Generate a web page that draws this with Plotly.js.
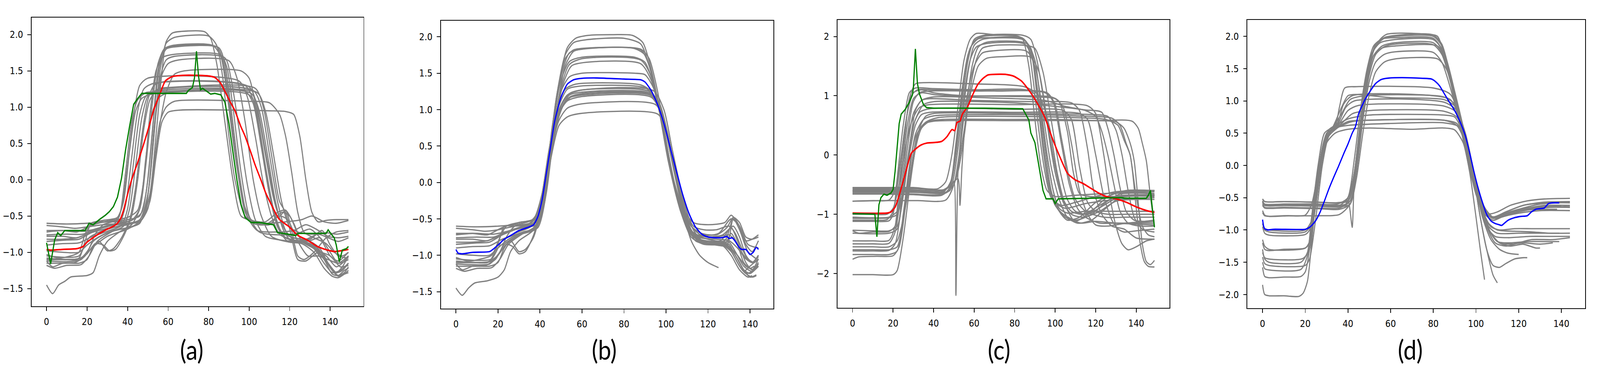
<!DOCTYPE html>
<html><head><meta charset="utf-8">
<script src="https://cdn.plot.ly/plotly-3.0.1.min.js"></script>
<style>html,body{margin:0;padding:0;background:#fff;overflow:hidden}#chart{position:absolute;left:0;top:0;width:4780px;height:956px;transform-origin:0 0}</style>
</head><body><div id="chart"></div>
<script>
// ---------- Panel (a): unaligned gray series ----------
const grayA = [
 [[0,-1.12],[10,-1.13],[17,-1.1],[22,-0.95],[30,-0.78],[40,-0.68],[47,-0.55],[51,-0.2],[54,0.6],[57,1.5],[59,1.9],[62,2.02],[70,2.05],[78,2.04],[81,1.95],[84,1.6],[88,0.8],[92,0.0],[96,-0.5],[101,-0.56],[108,-0.58],[114,-0.45],[118,-0.42],[122,-0.6],[126,-0.85],[132,-0.95],[137,-1.1],[141,-1.3],[144,-1.32],[147,-1.25],[149,-1.22]],
 [[0,-1.05],[10,-1.07],[16,-1.05],[21,-0.8],[28,-0.7],[38,-0.62],[46,-0.55],[50,-0.2],[53,0.6],[56,1.5],[59,1.88],[63,1.96],[80,1.98],[84,1.85],[87,1.4],[90,0.6],[93,0.0],[98,-0.5],[104,-0.6],[110,-0.62],[116,-0.45],[120,-0.5],[125,-0.8],[130,-0.9],[138,-1.05],[143,-1.2],[146,-1.15],[149,-1.05]],
 [[0,-0.6],[10,-0.61],[20,-0.6],[30,-0.58],[40,-0.55],[46,-0.5],[49,-0.2],[52,0.6],[55,1.5],[58,1.8],[62,1.85],[82,1.85],[86,1.7],[89,1.2],[93,0.35],[97,-0.3],[101,-0.55],[108,-0.6],[118,-0.58],[126,-0.55],[131,-0.5],[137,-0.58],[143,-0.6],[149,-0.56]],
 [[0,-0.76],[10,-0.75],[18,-0.75],[24,-0.68],[32,-0.62],[42,-0.56],[47,-0.45],[50,0.0],[53,0.9],[56,1.6],[59,1.8],[63,1.83],[85,1.82],[88,1.6],[91,1.0],[95,0.1],[99,-0.5],[104,-0.7],[114,-0.72],[122,-0.7],[128,-0.62],[133,-0.68],[139,-0.78],[144,-0.8],[149,-0.78]],
 [[0,-0.72],[8,-0.7],[15,-0.72],[22,-0.63],[30,-0.57],[40,-0.52],[45,-0.42],[48,0.0],[51,0.9],[54,1.5],[57,1.68],[61,1.72],[86,1.72],[89,1.55],[92,1.0],[96,0.1],[100,-0.5],[105,-0.72],[115,-0.76],[124,-0.74],[130,-0.68],[135,-0.8],[140,-1.05],[144,-1.12],[149,-1.0]],
 [[0,-1.15],[6,-1.15],[14,-1.14],[19,-1.05],[23,-0.85],[30,-0.73],[40,-0.66],[46,-0.6],[50,-0.2],[53,0.7],[56,1.4],[59,1.65],[63,1.7],[88,1.68],[91,1.4],[95,0.7],[99,-0.05],[103,-0.55],[108,-0.78],[118,-0.84],[126,-0.86],[132,-0.95],[137,-1.15],[141,-1.28],[145,-1.25],[149,-1.15]],
 [[0,-0.98],[8,-1.0],[16,-1.0],[20,-0.9],[25,-0.8],[33,-0.7],[43,-0.64],[48,-0.5],[51,0.0],[54,0.9],[57,1.45],[60,1.6],[65,1.65],[90,1.64],[94,1.4],[98,0.8],[102,0.0],[106,-0.5],[111,-0.78],[120,-0.86],[128,-0.87],[134,-0.95],[139,-1.15],[143,-1.28],[146,-1.2],[149,-1.05]],
 [[0,-0.85],[10,-0.83],[16,-0.82],[22,-0.73],[30,-0.64],[40,-0.6],[47,-0.55],[51,-0.2],[55,0.6],[59,1.2],[63,1.45],[68,1.5],[96,1.5],[100,1.4],[104,0.9],[108,0.2],[112,-0.4],[116,-0.72],[122,-0.8],[130,-0.82],[136,-0.7],[140,-0.9],[144,-1.05],[149,-1.08]],
 [[0,-1.08],[10,-1.1],[17,-1.08],[21,-0.95],[24,-0.75],[28,-0.62],[34,-0.56],[37,-0.4],[40,0.2],[43,0.9],[46,1.3],[50,1.4],[95,1.36],[99,1.15],[103,0.6],[107,-0.05],[111,-0.5],[115,-0.75],[122,-0.83],[130,-0.85],[135,-0.95],[140,-1.2],[144,-1.32],[147,-1.28],[149,-1.2]],
 [[0,-1.12],[3,-1.2],[8,-1.15],[16,-1.15],[20,-1.1],[23,-0.92],[26,-0.85],[30,-0.98],[33,-0.95],[37,-0.8],[41,-0.55],[44,-0.1],[47,0.6],[50,1.1],[53,1.3],[58,1.35],[98,1.3],[102,1.1],[106,0.5],[110,-0.2],[114,-0.65],[119,-0.85],[126,-0.88],[132,-1.0],[137,-1.22],[141,-1.33],[144,-1.35],[147,-1.3],[149,-1.25]],
 [[0,-0.78],[8,-0.78],[15,-0.8],[22,-0.72],[30,-0.64],[36,-0.6],[39,-0.35],[42,0.3],[45,0.95],[48,1.25],[53,1.33],[100,1.28],[104,1.0],[108,0.4],[112,-0.2],[116,-0.6],[120,-0.78],[128,-0.82],[134,-0.75],[139,-0.8],[144,-0.85],[149,-0.8]],
 [[0,-1.18],[4,-1.22],[10,-1.18],[17,-1.17],[21,-1.05],[25,-0.85],[32,-0.72],[38,-0.64],[41,-0.4],[44,0.2],[47,0.85],[50,1.15],[55,1.24],[102,1.23],[106,1.0],[110,0.35],[114,-0.3],[118,-0.7],[123,-0.85],[130,-0.88],[136,-1.05],[141,-1.25],[144,-1.33],[147,-1.3],[149,-1.28]],
 [[0,-0.7],[10,-0.7],[18,-0.71],[26,-0.67],[33,-0.62],[36,-0.5],[39,0.1],[42,0.8],[45,1.1],[49,1.2],[54,1.21],[104,1.2],[108,0.95],[112,0.35],[116,-0.3],[120,-0.65],[125,-0.73],[132,-0.75],[138,-0.73],[143,-0.75],[149,-0.72]],
 [[0,-1.45],[3,-1.57],[6,-1.45],[9,-1.4],[12,-1.34],[20,-1.32],[23,-1.28],[26,-1.05],[30,-0.85],[36,-0.72],[42,-0.62],[46,-0.4],[49,0.3],[52,0.9],[55,1.12],[60,1.2],[101,1.19],[105,0.95],[109,0.35],[113,-0.3],[117,-0.7],[121,-0.85],[128,-0.86],[134,-0.95],[139,-1.15],[143,-1.28],[146,-1.25],[149,-1.15]],
 [[0,-1.03],[6,-1.08],[12,-1.05],[16,-1.0],[19,-0.75],[22,-0.6],[28,-0.56],[35,-0.52],[38,-0.3],[41,0.4],[44,0.95],[47,1.12],[52,1.18],[100,1.17],[104,0.95],[108,0.35],[112,-0.25],[115,-0.5],[118,-0.42],[121,-0.7],[124,-1.05],[127,-1.1],[132,-1.0],[138,-0.8],[143,-0.72],[149,-0.7]],
 [[0,-0.63],[8,-0.65],[14,-0.67],[20,-0.65],[28,-0.62],[38,-0.6],[46,-0.58],[50,-0.4],[53,0.2],[56,0.8],[59,1.0],[63,1.08],[100,1.08],[110,1.06],[115,0.9],[118,0.6],[121,0.1],[124,-0.45],[127,-0.72],[132,-0.8],[138,-0.88],[142,-1.0],[146,-1.05],[149,-1.0]],
 [[0,-0.82],[8,-0.82],[15,-0.8],[22,-0.73],[30,-0.67],[40,-0.62],[47,-0.55],[51,-0.3],[54,0.3],[57,0.8],[60,0.93],[66,0.96],[110,0.95],[118,0.94],[122,0.9],[125,0.6],[128,0.0],[131,-0.45],[134,-0.58],[138,-0.56],[143,-0.55],[149,-0.55]],
 [[0,-0.9],[8,-0.88],[16,-0.87],[22,-0.79],[30,-0.71],[37,-0.63],[40,-0.4],[43,0.25],[46,0.9],[49,1.15],[54,1.22],[98,1.22],[102,1.05],[106,0.45],[110,-0.2],[114,-0.62],[118,-0.8],[124,-0.85],[130,-0.84],[135,-0.8],[140,-1.0],[144,-1.15],[149,-1.1]],
 [[0,-1.1],[10,-1.1],[16,-1.08],[19,-0.85],[22,-0.6],[26,-0.58],[34,-0.58],[42,-0.56],[46,-0.4],[49,0.2],[52,1.0],[55,1.6],[58,1.8],[62,1.84],[84,1.83],[87,1.65],[90,1.1],[94,0.2],[98,-0.45],[102,-0.6],[108,-0.62],[115,-0.5],[119,-0.55],[124,-0.85],[129,-1.05],[134,-1.05],[139,-1.1],[144,-1.15],[149,-1.05]],
 [[0,-1.1],[8,-1.1],[15,-1.1],[20,-1.02],[24,-0.88],[28,-0.9],[31,-0.98],[34,-0.96],[38,-0.78],[42,-0.5],[45,0.0],[48,0.7],[51,1.1],[55,1.25],[60,1.27],[103,1.26],[107,1.0],[111,0.35],[115,-0.3],[118,-0.45],[121,-0.8],[124,-1.1],[128,-1.12],[134,-1.0],[140,-1.05],[145,-1.2],[149,-1.18]]
];
const redAx = [0,2,8,15,18,20,25,30,33,35,36.6,38,40,42,45,47.6,50,53,55.8,58.6,61.9,70,80,83,85.7,88,90.7,93,95.8,98,100.8,103,105.9,108,110.9,114.7,119.8,124.2,128.6,133.7,138.7,142.5,145,149];
const redAy = [-0.96,-0.97,-0.96,-0.95,-0.92,-0.86,-0.76,-0.68,-0.64,-0.6,-0.53,-0.42,-0.2,0.0,0.24,0.46,0.68,0.97,1.17,1.36,1.42,1.44,1.43,1.41,1.34,1.22,1.07,0.95,0.74,0.6,0.38,0.2,-0.01,-0.17,-0.34,-0.54,-0.65,-0.77,-0.83,-0.92,-0.97,-0.99,-0.98,-0.96];
const greenAx = [0,2,4,5.5,7,9,19,21,23,26,29,31,33,35,37,39,41,43,45,47,69,70,72,73,74,75,76,77,79,81,83,86,88,90,92,94,96,98,101,105,112,114,117,123,124,138,139,140,142,143,144.5,146,148,149];
const greenAy = [-0.87,-1.16,-0.83,-0.73,-0.77,-0.7,-0.7,-0.6,-0.62,-0.55,-0.49,-0.44,-0.37,-0.24,0.02,0.41,0.74,1.04,1.12,1.19,1.19,1.23,1.27,1.4,1.77,1.43,1.24,1.26,1.22,1.18,1.19,1.17,1.07,0.78,0.38,-0.01,-0.34,-0.52,-0.59,-0.59,-0.62,-0.73,-0.74,-0.77,-0.74,-0.74,-0.69,-0.73,-0.8,-0.9,-1.13,-0.97,-0.95,-0.92];

// ---------- Panel (b): aligned gray series ----------
const grayB = [
 [[0,-1.12],[8,-1.13],[16,-1.12],[20,-1.0],[24,-0.85],[30,-0.72],[37,-0.62],[41,-0.35],[45,0.5],[49,1.35],[53,1.85],[57,1.98],[63,2.02],[75,2.03],[84,2.02],[89,1.92],[93,1.55],[97,1.0],[102,0.2],[107,-0.4],[112,-0.72],[117,-0.8],[124,-0.82],[129,-0.85],[133,-1.0],[137,-1.2],[140,-1.3],[143,-1.27]],
 [[0,-1.05],[10,-1.07],[17,-1.05],[22,-0.8],[28,-0.7],[36,-0.6],[40,-0.4],[44,0.3],[48,1.2],[52,1.75],[56,1.92],[62,1.96],[80,1.98],[88,1.9],[92,1.6],[96,1.1],[101,0.3],[106,-0.3],[111,-0.65],[116,-0.78],[126,-0.8],[131,-0.62],[134,-0.8],[138,-1.1],[141,-1.2],[144,-1.05]],
 [[0,-0.6],[10,-0.61],[20,-0.6],[28,-0.58],[36,-0.52],[40,-0.35],[44,0.35],[48,1.2],[52,1.7],[56,1.82],[65,1.85],[85,1.84],[90,1.75],[94,1.4],[98,0.85],[103,0.1],[108,-0.35],[113,-0.55],[120,-0.58],[128,-0.55],[131,-0.45],[134,-0.55],[138,-0.8],[141,-0.78],[144,-0.72]],
 [[0,-0.76],[10,-0.75],[18,-0.75],[24,-0.68],[32,-0.6],[38,-0.55],[42,-0.2],[46,0.7],[50,1.45],[54,1.78],[60,1.83],[88,1.82],[92,1.6],[96,1.1],[100,0.5],[105,-0.15],[110,-0.6],[115,-0.72],[125,-0.7],[131,-0.5],[135,-0.6],[139,-0.85],[144,-0.9]],
 [[0,-0.72],[8,-0.7],[15,-0.72],[22,-0.62],[30,-0.55],[38,-0.5],[42,-0.1],[46,0.8],[50,1.4],[54,1.66],[60,1.72],[85,1.72],[90,1.65],[94,1.35],[98,0.85],[103,0.1],[108,-0.45],[113,-0.7],[120,-0.75],[127,-0.72],[132,-0.6],[135,-0.75],[138,-1.0],[141,-1.1],[144,-1.0]],
 [[0,-1.15],[6,-1.15],[14,-1.14],[19,-1.05],[23,-0.85],[30,-0.72],[38,-0.64],[42,-0.3],[46,0.6],[50,1.3],[54,1.62],[60,1.7],[88,1.68],[93,1.45],[97,0.95],[102,0.2],[107,-0.4],[112,-0.72],[118,-0.82],[126,-0.84],[131,-0.95],[135,-1.15],[138,-1.25],[141,-1.22],[144,-1.1]],
 [[0,-0.98],[8,-1.0],[16,-1.0],[20,-0.9],[25,-0.78],[32,-0.68],[39,-0.62],[43,-0.15],[47,0.75],[51,1.35],[55,1.6],[62,1.65],[88,1.63],[93,1.4],[97,0.95],[102,0.2],[107,-0.4],[112,-0.75],[118,-0.85],[126,-0.86],[130,-0.9],[134,-1.1],[137,-1.22],[140,-1.15],[144,-1.05]],
 [[0,-0.85],[10,-0.83],[16,-0.82],[22,-0.72],[30,-0.62],[38,-0.58],[42,-0.25],[46,0.65],[50,1.25],[54,1.45],[60,1.5],[85,1.5],[90,1.48],[94,1.3],[98,0.9],[103,0.1],[108,-0.45],[113,-0.7],[120,-0.78],[128,-0.8],[132,-0.5],[135,-0.65],[139,-0.95],[143,-1.05]],
 [[0,-1.08],[10,-1.1],[17,-1.08],[21,-0.95],[24,-0.75],[28,-0.6],[36,-0.55],[40,-0.3],[44,0.4],[48,1.0],[52,1.28],[57,1.35],[88,1.34],[93,1.25],[97,1.0],[101,0.35],[106,-0.3],[111,-0.68],[117,-0.82],[126,-0.83],[130,-0.85],[133,-1.0],[137,-1.2],[140,-1.25],[144,-1.15]],
 [[0,-1.12],[3,-1.2],[8,-1.15],[16,-1.15],[20,-1.1],[23,-0.9],[26,-0.8],[30,-0.95],[33,-0.92],[37,-0.75],[41,-0.3],[45,0.5],[49,1.05],[53,1.28],[58,1.32],[90,1.3],[95,1.15],[99,0.7],[104,0.0],[109,-0.5],[114,-0.8],[120,-0.85],[127,-0.87],[131,-1.0],[135,-1.2],[139,-1.3],[141,-1.28]],
 [[0,-0.78],[8,-0.78],[15,-0.8],[22,-0.7],[30,-0.62],[38,-0.58],[42,-0.2],[46,0.55],[50,1.05],[54,1.22],[60,1.27],[92,1.25],[97,1.05],[101,0.6],[105,0.0],[110,-0.55],[115,-0.8],[122,-0.85],[129,-0.86],[132,-0.5],[135,-0.6],[138,-0.85],[141,-0.95],[144,-0.8]],
 [[0,-1.18],[4,-1.22],[10,-1.18],[17,-1.17],[21,-1.05],[25,-0.85],[32,-0.7],[38,-0.62],[42,-0.25],[46,0.5],[50,1.0],[54,1.2],[60,1.24],[92,1.23],[97,1.05],[101,0.55],[106,-0.1],[111,-0.6],[116,-0.82],[124,-0.85],[130,-0.88],[134,-1.05],[138,-1.25],[141,-1.3],[143,-1.28]],
 [[0,-0.7],[10,-0.7],[18,-0.71],[26,-0.66],[34,-0.6],[39,-0.5],[43,0.0],[47,0.7],[51,1.05],[55,1.18],[62,1.21],[93,1.2],[98,0.95],[102,0.45],[107,-0.2],[112,-0.6],[117,-0.73],[124,-0.75],[130,-0.72],[133,-0.8],[137,-1.0],[141,-1.1],[144,-1.0]],
 [[0,-1.45],[3,-1.55],[6,-1.45],[9,-1.38],[15,-1.35],[20,-1.3],[23,-1.2],[26,-0.95],[30,-0.8],[37,-0.65],[41,-0.3],[45,0.45],[49,0.95],[53,1.15],[60,1.2],[93,1.19],[98,0.95],[102,0.45],[107,-0.2],[112,-0.65],[117,-0.82],[125,-0.83],[130,-0.82],[133,-0.95],[137,-1.15],[141,-1.22],[144,-1.12]],
 [[0,-1.03],[6,-1.08],[12,-1.05],[17,-1.0],[21,-0.75],[24,-0.6],[30,-0.55],[37,-0.5],[41,-0.15],[45,0.55],[49,0.95],[53,1.12],[60,1.18],[93,1.17],[98,0.92],[102,0.4],[107,-0.25],[112,-0.6],[117,-0.7],[124,-0.72],[129,-0.62],[132,-0.48],[135,-0.55],[138,-0.75],[141,-0.78],[144,-0.75]],
 [[0,-0.63],[8,-0.65],[14,-0.67],[20,-0.65],[28,-0.6],[36,-0.55],[41,-0.3],[45,0.4],[49,0.85],[53,1.02],[60,1.08],[95,1.07],[99,0.85],[103,0.35],[108,-0.25],[113,-0.6],[118,-0.65],[124,-0.65],[130,-0.6],[133,-0.7],[136,-0.9],[139,-1.05],[142,-1.1],[144,-1.05]],
 [[0,-0.82],[8,-0.82],[15,-0.8],[22,-0.72],[28,-0.65],[36,-0.58],[41,-0.35],[45,0.3],[49,0.78],[53,0.9],[60,0.95],[96,0.94],[100,0.75],[104,0.2],[108,-0.4],[112,-0.8],[116,-1.0],[120,-1.1],[125,-1.17]],
 [[0,-0.9],[8,-0.88],[16,-0.87],[22,-0.78],[30,-0.7],[38,-0.62],[42,-0.2],[46,0.55],[50,1.0],[54,1.17],[60,1.22],[93,1.22],[97,1.08],[101,0.65],[105,0.0],[110,-0.55],[115,-0.8],[122,-0.84],[128,-0.85],[131,-0.7],[134,-0.85],[137,-1.1],[140,-1.18],[142,-1.15]],
 [[0,-1.1],[10,-1.1],[16,-1.08],[20,-0.85],[23,-0.6],[27,-0.6],[34,-0.58],[40,-0.4],[44,0.2],[48,1.0],[52,1.6],[56,1.8],[62,1.84],[88,1.83],[92,1.7],[96,1.25],[100,0.55],[105,-0.15],[110,-0.6],[115,-0.75],[124,-0.78],[130,-0.8],[134,-0.9],[138,-1.05],[141,-1.1],[144,-1.02]],
 [[0,-1.1],[8,-1.1],[15,-1.1],[20,-1.0],[24,-0.85],[27,-0.88],[30,-0.98],[33,-0.95],[37,-0.72],[41,-0.25],[45,0.5],[49,1.0],[53,1.2],[60,1.27],[94,1.26],[99,1.0],[103,0.45],[108,-0.2],[113,-0.65],[118,-0.82],[126,-0.84],[130,-0.88],[134,-1.0],[138,-1.15],[142,-1.2],[144,-1.15]]
];
const blueBx = [0,1,3,8,16,18,20,23,26,30,34,37,39,41,43,45,47,50,53,56,60,67,80,88,90,93,96,99,102,105,108,111,114,117,120,126,128,129,130,131.5,133,134.5,136,138,140,141.5,143,144];
const blueBy = [-0.92,-0.97,-0.98,-0.96,-0.95,-0.91,-0.86,-0.78,-0.73,-0.66,-0.62,-0.58,-0.47,-0.24,0.12,0.48,0.84,1.17,1.35,1.41,1.43,1.435,1.42,1.41,1.38,1.26,1.07,0.81,0.48,0.15,-0.17,-0.43,-0.61,-0.71,-0.75,-0.76,-0.75,-0.74,-0.77,-0.76,-0.81,-0.88,-0.92,-0.92,-0.99,-0.96,-0.89,-0.92];

// ---------- Panel (c): unaligned gray series ----------
const grayC = [
 [[0,-2.02],[10,-2.02],[20,-2.02],[22,-1.95],[25,-1.4],[28,-0.6],[31,0.1],[34,0.45],[38,0.57],[45,0.6],[80,0.6],[100,0.6],[120,0.58],[130,0.56],[134,0.45],[137,0.2],[139,-0.1],[141,-0.8],[143,-1.5],[145,-1.8],[147,-1.85],[149,-1.78]],
 [[0,-1.76],[3,-1.72],[12,-1.71],[20,-1.7],[23,-1.55],[26,-0.9],[29,-0.2],[32,0.35],[36,0.55],[42,0.63],[80,0.65],[110,0.63],[125,0.6],[131,0.5],[134,0.25],[137,0.0],[140,-0.9],[142,-1.5],[144,-1.8],[146,-1.88],[149,-1.89]],
 [[0,-1.62],[10,-1.62],[18,-1.61],[21,-1.5],[24,-0.9],[27,-0.1],[30,0.5],[33,0.72],[38,0.78],[80,0.77],[104,0.75],[108,0.6],[112,-0.2],[116,-0.8],[120,-0.95],[126,-1.0],[135,-1.0],[149,-1.0]],
 [[0,-1.5],[10,-1.5],[18,-1.49],[21,-1.3],[24,-0.6],[27,0.3],[30,0.9],[33,1.05],[38,1.08],[60,1.08],[95,1.05],[99,0.9],[103,0.2],[107,-0.5],[111,-0.9],[115,-1.05],[122,-1.15],[130,-1.15],[140,-1.15],[149,-1.15]],
 [[0,-1.45],[10,-1.45],[18,-1.44],[21,-1.2],[23,-0.5],[26,0.4],[28,0.95],[31,1.2],[35,1.22],[60,1.2],[85,1.15],[92,1.0],[97,0.5],[101,-0.3],[105,-0.85],[109,-1.1],[113,-1.15],[120,-1.12],[130,-1.15],[149,-1.18]],
 [[0,-1.28],[3,-1.32],[10,-1.3],[18,-1.29],[21,-1.2],[24,-0.4],[27,0.5],[30,0.95],[34,1.05],[40,1.02],[50,1.0],[90,0.98],[100,0.95],[104,0.8],[108,0.2],[112,-0.6],[116,-1.0],[120,-1.18],[126,-1.2],[135,-1.15],[149,-1.12]],
 [[0,-1.1],[10,-1.1],[17,-1.09],[20,-0.95],[23,-0.3],[26,0.5],[29,1.0],[32,1.1],[40,1.1],[70,1.08],[96,1.05],[100,0.85],[103,0.3],[107,-0.4],[110,-0.75],[115,-0.95],[124,-1.05],[135,-1.05],[149,-1.05]],
 [[0,-1.05],[10,-1.06],[18,-1.05],[22,-0.95],[25,-0.6],[28,0.0],[31,0.5],[34,0.68],[38,0.72],[80,0.72],[112,0.7],[116,0.6],[120,0.0],[124,-0.7],[128,-1.1],[131,-1.25],[134,-1.3],[140,-1.28],[149,-1.25]],
 [[0,-1.0],[10,-1.0],[17,-1.0],[20,-0.9],[23,-0.5],[26,0.1],[29,0.55],[33,0.8],[38,0.85],[80,0.85],[116,0.83],[120,0.7],[124,0.0],[127,-0.7],[130,-1.2],[133,-1.5],[136,-1.6],[140,-1.55],[145,-1.45],[149,-1.42]],
 [[0,-1.27],[10,-1.28],[18,-1.28],[22,-1.2],[25,-0.7],[28,0.1],[31,0.75],[34,0.92],[38,0.95],[60,0.92],[90,0.9],[108,0.88],[112,0.75],[116,0.1],[119,-0.6],[123,-1.0],[128,-1.2],[134,-1.25],[140,-1.4],[149,-1.42]],
 [[0,-1.55],[10,-1.55],[18,-1.55],[22,-1.45],[26,-0.9],[30,-0.1],[33,0.45],[36,0.65],[40,0.7],[80,0.7],[120,0.68],[126,0.65],[130,0.42],[133,0.0],[136,-0.6],[139,-1.05],[143,-1.25],[149,-1.3]],
 [[0,-0.78],[10,-0.77],[18,-0.76],[21,-0.6],[24,0.0],[27,0.7],[30,1.05],[34,1.1],[40,1.05],[55,1.0],[80,1.0],[98,0.98],[102,0.9],[106,0.4],[109,-0.3],[112,-0.65],[117,-0.7],[130,-0.7],[149,-0.68]],
 [[0,-1.12],[10,-1.12],[18,-1.11],[20,-1.0],[22,-0.4],[25,0.5],[28,1.05],[31,1.13],[40,1.12],[60,1.1],[88,1.08],[92,0.9],[94,0.5],[96,0.0],[99,-0.6],[102,-0.9],[106,-0.98],[115,-0.95],[130,-0.95],[149,-0.95]],
 [[0,-1.32],[10,-1.33],[18,-1.32],[22,-1.25],[24,-0.8],[27,0.1],[30,0.7],[34,0.92],[40,0.98],[70,0.96],[95,0.92],[105,0.82],[115,0.75],[120,0.65],[123,0.4],[126,0.0],[129,-0.5],[132,-0.95],[136,-1.15],[142,-1.2],[149,-1.2]],
 [[0,-1.07],[10,-1.07],[18,-1.06],[22,-1.0],[25,-0.6],[28,0.1],[31,0.6],[35,0.85],[40,0.9],[80,0.88],[100,0.82],[115,0.76],[123,0.72],[126,0.45],[129,0.0],[132,-0.55],[135,-0.95],[139,-1.1],[144,-1.12],[149,-1.1]],
 [[0,-1.6],[10,-1.6],[18,-1.6],[22,-1.55],[25,-1.1],[28,-0.3],[31,0.35],[35,0.6],[40,0.66],[80,0.68],[110,0.66],[128,0.62],[132,0.5],[135,0.2],[137,0.0],[140,-0.7],[143,-1.2],[146,-1.35],[149,-1.38]],
 [[0,-1.68],[10,-1.68],[18,-1.68],[22,-1.62],[25,-1.0],[28,-0.2],[31,0.3],[35,0.52],[40,0.57],[80,0.58],[120,0.58],[138,0.57],[141,0.45],[143,0.2],[145,-0.1],[147,-0.7],[149,-1.2]],
 [[0,-0.55],[15,-0.55],[30,-0.55],[42,-0.57],[46,-0.45],[49,0.0],[52,0.8],[55,1.6],[58,1.95],[61,2.05],[70,2.03],[80,2.02],[84,1.95],[87,1.5],[90,0.6],[93,-0.2],[96,-0.6],[100,-0.7],[110,-0.68],[125,-0.65],[149,-0.62]],
 [[0,-0.6],[15,-0.6],[30,-0.6],[44,-0.62],[48,-0.5],[51,0.2],[54,1.1],[57,1.7],[60,1.92],[64,2.0],[82,2.0],[86,1.9],[89,1.3],[92,0.4],[95,-0.3],[98,-0.72],[103,-0.85],[110,-0.8],[120,-0.7],[130,-0.62],[149,-0.6]],
 [[0,-0.63],[15,-0.63],[30,-0.63],[44,-0.64],[48,-0.6],[50,-0.45],[51,-2.37],[52,-0.3],[54,0.5],[57,1.4],[60,1.85],[64,1.95],[84,1.95],[88,1.8],[91,1.1],[94,0.2],[97,-0.5],[100,-0.8],[105,-0.9],[115,-0.82],[130,-0.75],[149,-0.72]],
 [[0,-0.58],[15,-0.58],[30,-0.59],[44,-0.6],[48,-0.52],[52,-0.4],[53,-0.85],[54,-0.2],[56,0.7],[59,1.5],[62,1.82],[66,1.9],[86,1.88],[90,1.6],[93,0.8],[96,0.0],[99,-0.6],[102,-0.95],[106,-1.1],[112,-1.05],[120,-0.8],[130,-0.65],[149,-0.6]],
 [[0,-0.65],[15,-0.65],[30,-0.66],[45,-0.66],[49,-0.5],[52,0.1],[55,1.0],[58,1.6],[61,1.82],[66,1.88],[85,1.87],[89,1.6],[92,0.9],[95,0.1],[98,-0.6],[101,-0.9],[105,-1.05],[110,-1.12],[118,-0.95],[126,-0.7],[135,-0.6],[149,-0.6]],
 [[0,-0.6],[15,-0.61],[32,-0.61],[45,-0.62],[49,-0.4],[52,0.4],[55,1.3],[58,1.8],[62,1.96],[68,1.98],[84,1.97],[88,1.75],[91,1.0],[94,0.1],[97,-0.55],[100,-0.85],[104,-1.0],[110,-1.1],[118,-1.0],[125,-0.8],[132,-0.66],[149,-0.65]],
 [[0,-0.78],[15,-0.77],[32,-0.77],[46,-0.76],[50,-0.5],[53,0.1],[56,0.9],[60,1.5],[64,1.72],[70,1.76],[86,1.75],[90,1.5],[94,0.7],[98,-0.2],[102,-0.75],[106,-1.05],[111,-1.15],[118,-1.1],[125,-0.9],[132,-0.72],[149,-0.7]],
 [[0,-0.62],[15,-0.62],[32,-0.63],[46,-0.64],[50,-0.5],[54,0.2],[58,1.0],[62,1.5],[66,1.63],[75,1.66],[88,1.65],[92,1.4],[96,0.6],[100,-0.2],[104,-0.75],[108,-0.95],[114,-1.0],[122,-0.85],[130,-0.7],[149,-0.67]],
 [[0,-0.56],[15,-0.56],[32,-0.57],[46,-0.58],[51,-0.4],[55,0.3],[58,1.1],[61,1.6],[64,1.8],[70,1.85],[85,1.85],[90,1.8],[94,1.4],[98,0.6],[102,-0.2],[106,-0.75],[110,-0.95],[116,-1.0],[124,-0.85],[132,-0.7],[149,-0.68]],
 [[0,-0.66],[15,-0.66],[30,-0.67],[44,-0.68],[48,-0.55],[51,0.0],[54,0.9],[57,1.6],[60,1.95],[65,2.02],[84,2.02],[88,1.95],[91,1.6],[94,1.0],[97,0.3],[100,-0.3],[104,-0.8],[108,-1.0],[114,-1.05],[122,-0.95],[130,-0.78],[149,-0.75]]
];
const redCx = [0,17,19,21,23,25,27,29,31.4,33.9,36.5,40.3,44,46.6,49.1,50.4,51.6,53,54.2,56.7,59.2,61.8,64.3,66.8,69.4,75.7,79.5,83.3,87.1,90.9,94.7,98.5,102.3,106.1,109.9,113.7,117.5,121.3,125.1,130.1,135.2,140.3,145.3,149];
const redCy = [-0.98,-0.98,-0.96,-0.88,-0.68,-0.44,-0.19,0.03,0.11,0.17,0.2,0.21,0.23,0.31,0.43,0.41,0.55,0.57,0.69,0.81,1.01,1.19,1.29,1.35,1.36,1.36,1.33,1.25,1.09,0.89,0.65,0.29,-0.03,-0.31,-0.42,-0.48,-0.56,-0.64,-0.70,-0.74,-0.80,-0.88,-0.94,-0.97];
const greenCx = [0,11,12,13,14,15.5,17,19,20,21,22,23,24,26,28,29.5,30,31,32,33,35,36.5,40,65,84,85.5,87,88,90,92,94,95.5,99,100,101.5,133,134,145,146,147,149];
const greenCy = [-0.99,-1.0,-1.38,-0.84,-0.72,-0.66,-0.68,-0.64,-0.58,-0.27,0.13,0.53,0.69,0.77,0.89,1.01,1.13,1.79,1.21,1.03,0.85,0.8,0.79,0.79,0.78,0.69,0.59,0.37,0.21,-0.19,-0.6,-0.74,-0.74,-0.82,-0.74,-0.72,-0.73,-0.73,-0.68,-0.6,-1.22];

// ---------- Panel (d): aligned gray series ----------
const grayD = [
 [[0,-1.85],[1,-2.0],[3,-2.02],[10,-2.02],[17,-2.03],[19,-1.98],[21,-1.8],[23,-1.2],[25,-0.5],[27,0.0],[30,0.35],[34,0.5],[40,0.56],[50,0.58],[70,0.56],[85,0.58],[90,0.55],[94,0.35],[97,-0.1],[100,-0.8],[102,-1.3],[104,-1.77]],
 [[0,-1.58],[1,-1.72],[3,-1.74],[10,-1.73],[18,-1.72],[20,-1.65],[22,-1.3],[24,-0.6],[27,0.1],[30,0.45],[34,0.58],[40,0.62],[60,0.65],[85,0.66],[92,0.6],[96,0.35],[99,-0.2],[102,-0.8],[105,-1.3],[108,-1.7],[110,-1.82]],
 [[0,-1.5],[1,-1.6],[3,-1.62],[18,-1.61],[21,-1.4],[23,-0.8],[26,-0.1],[29,0.4],[33,0.58],[40,0.72],[50,0.78],[85,0.78],[90,0.75],[94,0.5],[98,0.0],[102,-0.6],[106,-0.95],[110,-1.05],[120,-1.05],[130,-1.05],[139,-1.05]],
 [[0,-1.3],[1,-1.45],[3,-1.5],[18,-1.5],[21,-1.35],[23,-0.8],[26,0.0],[29,0.5],[33,0.6],[37,0.8],[41,1.02],[48,1.08],[85,1.06],[90,0.95],[94,0.6],[98,0.0],[102,-0.6],[106,-1.0],[110,-1.18],[116,-1.2],[124,-1.18],[133,-1.18],[139,-1.18]],
 [[0,-1.35],[1,-1.43],[3,-1.45],[19,-1.44],[22,-1.3],[24,-0.7],[27,0.1],[30,0.5],[34,0.6],[36,0.9],[38.5,1.2],[44,1.22],[80,1.2],[88,1.1],[93,0.7],[97,0.1],[101,-0.5],[105,-0.95],[109,-1.2],[114,-1.25],[120,-1.2],[126,-1.15],[136,-1.15],[144,-1.12]],
 [[0,-1.2],[1,-1.3],[3,-1.32],[10,-1.3],[20,-1.28],[22,-1.2],[25,-0.6],[28,0.1],[31,0.5],[35,0.62],[39,0.9],[43,1.0],[85,0.98],[91,0.85],[95,0.5],[99,-0.1],[103,-0.7],[107,-1.05],[111,-1.2],[116,-1.22],[122,-1.2],[130,-1.22],[136,-1.2]],
 [[0,-0.95],[1,-1.05],[3,-1.08],[20,-1.07],[22,-1.0],[25,-0.5],[28,0.2],[31,0.55],[35,0.65],[38,0.95],[42,1.08],[80,1.08],[88,1.02],[93,0.7],[97,0.1],[101,-0.5],[105,-0.95],[109,-1.1],[115,-1.12],[125,-1.1],[135,-1.1],[144,-1.1]],
 [[0,-0.9],[1,-1.0],[3,-1.03],[20,-1.03],[23,-0.9],[26,-0.3],[29,0.3],[32,0.52],[36,0.6],[42,0.68],[85,0.7],[91,0.65],[95,0.4],[99,-0.2],[103,-0.8],[107,-1.15],[111,-1.3],[115,-1.36],[120,-1.38]],
 [[0,-0.9],[1,-0.98],[3,-1.0],[20,-1.0],[23,-0.85],[26,-0.2],[29,0.35],[32,0.55],[36,0.62],[42,0.8],[50,0.85],[85,0.84],[91,0.75],[95,0.45],[99,-0.2],[102,-0.8],[105,-1.3],[108,-1.55],[111,-1.58],[114,-1.52],[118,-1.45],[122,-1.43],[124,-1.43]],
 [[0,-1.15],[1,-1.25],[3,-1.3],[20,-1.28],[22,-1.18],[25,-0.6],[28,0.1],[31,0.5],[35,0.6],[40,0.85],[45,0.93],[85,0.92],[91,0.82],[95,0.5],[99,-0.1],[103,-0.7],[107,-1.05],[111,-1.2],[116,-1.25],[122,-1.22],[128,-1.28],[130,-1.28]],
 [[0,-1.42],[1,-1.52],[3,-1.55],[20,-1.55],[22,-1.45],[25,-0.8],[28,0.0],[31,0.45],[35,0.58],[40,0.68],[50,0.7],[85,0.7],[91,0.62],[95,0.35],[99,-0.25],[103,-0.75],[107,-0.95],[111,-1.0],[118,-0.98],[126,-0.98],[134,-0.98],[144,-0.98]],
 [[0,-0.7],[1,-0.77],[3,-0.79],[12,-0.78],[20,-0.77],[23,-0.6],[26,-0.1],[29,0.4],[33,0.6],[37,0.9],[40,1.08],[44,1.1],[60,1.05],[85,1.02],[90,0.92],[94,0.6],[98,0.0],[102,-0.6],[106,-0.9],[110,-1.0],[118,-1.02],[126,-1.03],[134,-1.05],[144,-1.05]],
 [[0,-0.52],[1,-0.56],[10,-0.56],[25,-0.57],[34,-0.58],[39,-0.55],[42,-0.3],[45,0.4],[48,1.2],[51,1.7],[55,1.95],[58,2.03],[65,2.05],[78,2.03],[82,2.0],[86,1.6],[90,1.0],[94,0.4],[98,-0.2],[102,-0.55],[106,-0.75],[110,-0.72],[116,-0.62],[124,-0.55],[132,-0.52],[144,-0.51]],
 [[0,-0.55],[1,-0.6],[10,-0.6],[25,-0.6],[35,-0.6],[40,-0.5],[43,-0.1],[46,0.7],[49,1.4],[53,1.85],[57,1.97],[62,2.0],[80,2.0],[84,1.85],[88,1.4],[92,0.8],[96,0.2],[100,-0.3],[104,-0.65],[108,-0.8],[114,-0.72],[122,-0.62],[132,-0.57],[144,-0.56]],
 [[0,-0.57],[1,-0.62],[10,-0.62],[25,-0.63],[35,-0.64],[39,-0.6],[40,-0.5],[41,-0.7],[42,-0.96],[43,-0.2],[45,0.45],[48,1.25],[51,1.72],[55,1.9],[62,1.95],[80,1.95],[84,1.8],[88,1.35],[92,0.8],[96,0.25],[100,-0.25],[104,-0.65],[108,-0.82],[114,-0.75],[122,-0.68],[132,-0.62],[144,-0.62]],
 [[0,-0.56],[1,-0.6],[10,-0.6],[26,-0.6],[35,-0.62],[39,-0.6],[41,-0.5],[43,-0.2],[46,0.6],[49,1.3],[52,1.7],[56,1.85],[62,1.9],[80,1.9],[84,1.75],[88,1.3],[92,0.7],[96,0.1],[100,-0.45],[104,-0.75],[108,-0.85],[112,-0.8],[120,-0.72],[130,-0.66],[140,-0.64],[144,-0.64]],
 [[0,-0.6],[1,-0.65],[10,-0.65],[26,-0.66],[36,-0.66],[41,-0.55],[44,0.0],[47,0.8],[50,1.4],[53,1.72],[57,1.84],[62,1.88],[80,1.87],[84,1.72],[88,1.3],[92,0.75],[96,0.15],[100,-0.4],[104,-0.72],[108,-0.8],[112,-0.76],[120,-0.7],[130,-0.68],[138,-0.68]],
 [[0,-0.55],[1,-0.61],[10,-0.61],[26,-0.61],[36,-0.62],[40,-0.5],[43,0.1],[46,0.9],[49,1.5],[52,1.85],[56,1.96],[64,1.98],[80,1.97],[84,1.8],[88,1.35],[92,0.75],[96,0.15],[100,-0.4],[104,-0.72],[108,-0.82],[113,-0.75],[120,-0.68],[130,-0.6],[144,-0.57]],
 [[0,-0.73],[1,-0.78],[10,-0.78],[26,-0.78],[36,-0.76],[41,-0.6],[44,-0.1],[47,0.7],[50,1.3],[53,1.6],[57,1.72],[62,1.76],[80,1.75],[84,1.6],[88,1.2],[92,0.7],[96,0.15],[100,-0.4],[104,-0.75],[108,-0.85],[112,-0.8],[120,-0.74],[130,-0.7],[144,-0.7]],
 [[0,-0.58],[1,-0.62],[10,-0.62],[26,-0.63],[36,-0.64],[41,-0.6],[44,-0.2],[47,0.5],[50,1.1],[53,1.45],[57,1.6],[62,1.65],[82,1.65],[86,1.5],[90,1.1],[94,0.55],[98,0.0],[102,-0.5],[106,-0.78],[110,-0.8],[116,-0.72],[124,-0.66],[132,-0.64],[140,-0.63]],
 [[0,-0.52],[1,-0.56],[10,-0.56],[26,-0.57],[36,-0.58],[40,-0.55],[43,-0.1],[46,0.7],[49,1.35],[52,1.7],[56,1.82],[62,1.85],[82,1.85],[86,1.65],[90,1.15],[94,0.6],[98,0.0],[102,-0.5],[106,-0.78],[110,-0.82],[116,-0.74],[124,-0.68],[134,-0.65],[144,-0.65]],
 [[0,-0.62],[1,-0.66],[10,-0.66],[26,-0.67],[36,-0.68],[41,-0.6],[44,0.0],[47,0.9],[50,1.55],[53,1.88],[57,1.98],[64,2.02],[80,2.02],[84,1.88],[88,1.4],[92,0.8],[96,0.2],[100,-0.35],[104,-0.7],[108,-0.8],[114,-0.72],[122,-0.62],[132,-0.58],[144,-0.58]]
];
const blueDx = [0,0.5,1,2.5,5,20,21.5,23,25,27,29,31,33.5,35.5,38,40,42,43.5,45,48,51,53,55.5,58,65,75,79,81,83,85,87,90,93,95,97,99,101,103,105,107,109,111,112,113.5,115,118,121,124,126,128,130,132,134,136,139];
const blueDy = [-0.84,-0.94,-0.98,-1.0,-0.99,-0.99,-0.97,-0.93,-0.85,-0.72,-0.55,-0.37,-0.17,-0.02,0.18,0.33,0.5,0.6,0.8,1.02,1.18,1.27,1.33,1.35,1.36,1.35,1.34,1.3,1.23,1.12,1.01,0.85,0.64,0.46,0.2,-0.09,-0.35,-0.57,-0.76,-0.86,-0.9,-0.92,-0.93,-0.89,-0.85,-0.81,-0.79,-0.78,-0.72,-0.68,-0.67,-0.66,-0.59,-0.58,-0.58];

const panelLabels = ['(a)','(b)','(c)','(d)'];
const xTicks = [0,20,40,60,80,100,120,140];

// ---------- build at reference size, then fit the viewport ----------
const REFW = 4780, REFH = 956;
const el = document.getElementById('chart');
function fit(){
  const W = window.innerWidth || REFW, H = window.innerHeight || REFH;
  el.style.transform = 'scale(' + (W/REFW) + ',' + (H/REFH) + ')';
}
fit();

const GRAY = '#808080';
const traces = [];
function addGray(lines, ax){
  lines.forEach(l => traces.push({type:'scatter',mode:'lines',xaxis:'x'+ax,yaxis:'y'+ax,
    x:l.map(p=>p[0]), y:l.map(p=>p[1]), line:{color:GRAY,width:3.3,shape:'spline',smoothing:0.7},hoverinfo:'skip'}));
}
function addLine(x,y,ax,color,w,shape){
  traces.push({type:'scatter',mode:'lines',xaxis:'x'+ax,yaxis:'y'+ax,x:x,y:y,
    line:{color:color,width:w,shape:shape||'linear',smoothing:0.6},hoverinfo:'skip'});
}
addGray(grayA,''); addLine(redAx,redAy,'','#ff0000',4.0,'spline'); addLine(greenAx,greenAy,'','#008000',3.6);
addGray(grayB,'2'); addLine(blueBx,blueBy,'2','#0000ff',3.6,'spline');
addGray(grayC,'3'); addLine(redCx,redCy,'3','#ff0000',4.0,'spline'); addLine(greenCx,greenCy,'3','#008000',3.6);
addGray(grayD,'4'); addLine(blueDx,blueDy,'4','#0000ff',3.6,'spline');

const boxes = [ // left,right,top,bottom in reference px
  [94,1086,45,785],[1317,2311,53,791],[2502,3494,51,789],[3726,4736,51,790]];
const xr = [[-7.45,156.45],[-7.2,151.2],[-7.45,156.45],[-7.2,151.2]];
const yr = [[-1.744,2.235],[-1.733,2.222],[-2.58,2.28],[-2.213,2.255]];
const yd = [0.5,0.5,1,0.5];
const yf = ['.1f','.1f','d','.1f'];
const tickFont = {family:'DejaVu Sans',size:25,color:'#000'};
const layout = {width:REFW,height:REFH,margin:{l:0,r:0,t:0,b:0,pad:0},showlegend:false,
  paper_bgcolor:'#fff',plot_bgcolor:'#fff',annotations:[]};
const labelX = [573,1805,2985,4213];
boxes.forEach((b,i)=>{
  const s = i===0?'':String(i+1);
  const common = {showgrid:false,zeroline:false,showline:true,mirror:true,linecolor:'#000',linewidth:2,
    ticks:'outside',ticklen:10,tickwidth:2,tickcolor:'#000',tickfont:tickFont};
  layout['xaxis'+s] = Object.assign({domain:[b[0]/REFW,b[1]/REFW],range:xr[i],anchor:'y'+s,tickmode:'array',tickvals:xTicks,
    ticklabelstandoff:6},common);
  layout['yaxis'+s] = Object.assign({domain:[1-b[3]/REFH,1-b[2]/REFH],range:yr[i],anchor:'x'+s,dtick:yd[i],tick0:0,tickformat:yf[i],
    ticklabelstandoff:8},common);
  layout.annotations.push({xref:'paper',yref:'paper',x:labelX[i]/REFW,y:1-895/REFH,xanchor:'center',yanchor:'middle',
    text:panelLabels[i],showarrow:false,font:{family:'Lato',size:70,color:'#000'}});
});
Plotly.newPlot('chart',traces,layout,{staticPlot:true,displayModeBar:false});
</script></body></html>
